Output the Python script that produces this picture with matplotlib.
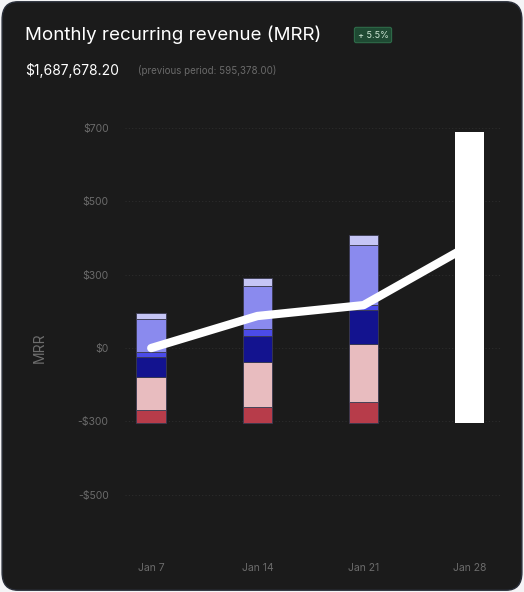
import matplotlib.pyplot as plt
from matplotlib.patches import FancyBboxPatch

plt.rcParams['font.family'] = ['Inter', 'DejaVu Sans']

weeks = ["Jan 7", "Jan 14", "Jan 21", "Jan 28"]
# segment edges, bottom to top, for the stacked weeks
edges = [
    [-255, -211, -99, -31, -14, 99, 119],
    [-255, -201, -48, 41, 65, 211, 238],
    [-255, -184, 14, 129, 146, 350, 384],
]
seg_colors = ["#b73c4a", "#e8bcbf", "#13138f", "#4b4be8", "#8a8aee", "#c5c5f5"]
total_bar = (-255, 735)
mrr_line = [0, 109, 146, 350]
yticks = [750, 500, 250, 0, -250, -500]
ytick_labels = ["$700", "$500", "$300", "$0", "-$300", "-$500"]

fig = plt.figure(figsize=(5.24, 5.92), dpi=100)
fig.patch.set_facecolor("#f4f4f6")
card = FancyBboxPatch((0.004, 0.003), 0.992, 0.994, boxstyle="round,pad=0,rounding_size=0.03",
                      transform=fig.transFigure, facecolor="#1b1b1b", edgecolor="#2a2f3a",
                      lw=1, zorder=-10)
fig.patches.append(card)

ax = fig.add_axes([0.239, 0.0895, 0.716, 0.7196])
ax.set_facecolor("none")
ax.set_zorder(5)

for i, e in enumerate(edges):
    for j in range(len(seg_colors)):
        ax.bar(i, e[j + 1] - e[j], bottom=e[j], width=0.28, color=seg_colors[j],
               edgecolor="#3a3a50", linewidth=0.6, zorder=2)
ax.bar(3, total_bar[1] - total_bar[0], bottom=total_bar[0], width=0.28, color="white", zorder=2)
ax.plot(range(4), mrr_line, color="white", lw=6, solid_capstyle="round", zorder=3)

ax.set_xlim(-0.245, 3.29)
ax.set_ylim(-650, 800)
ax.set_xticks(range(4), weeks)
ax.set_yticks(yticks, ytick_labels)
ax.tick_params(length=0, colors="#6b6b6b", labelsize=7.5)
ax.tick_params(axis="x", pad=17)
ax.tick_params(axis="y", pad=12)
ax.grid(axis="y", color="#2c2c2c", linestyle=(0, (1, 2)), lw=0.8, zorder=0)
for s in ax.spines.values():
    s.set_visible(False)
fig.text(40 / 524, 1 - 348 / 592, "MRR", rotation=90, color="#6e6e6e", fontsize=10,
         ha="center", va="center")

fig.text(25 / 524, 1 - 35 / 592, "Monthly recurring revenue (MRR)", color="white",
         fontsize=13.5, va="center")
fig.text(373 / 524, 1 - 35 / 592, "+ 5.5%", color="#cfe8d6", fontsize=6.5, ha="center",
         va="center", bbox=dict(boxstyle="round,pad=0.35,rounding_size=0.2",
                                facecolor="#1f4a33", edgecolor="#2e6b49", lw=0.8))
fig.text(25 / 524, 1 - 71 / 592, "$1,687,678.20", color="white", fontsize=10, va="center")
fig.text(138 / 524, 1 - 71 / 592, "(previous period: 595,378.00)", color="#6a6a6a",
         fontsize=7, va="center")

fig.savefig("out.png", dpi=100, facecolor=fig.get_facecolor())
